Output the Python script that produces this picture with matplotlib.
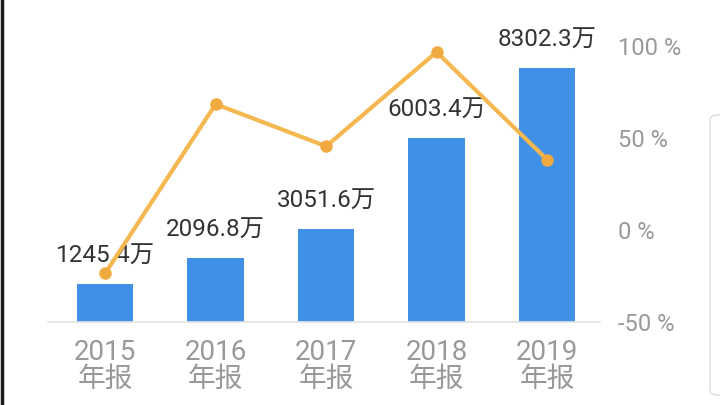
import matplotlib
matplotlib.use("Agg")
import matplotlib.pyplot as plt
from matplotlib.patches import FancyBboxPatch
from matplotlib.lines import Line2D

plt.rcParams['font.family'] = ['Roboto', 'Noto Sans CJK SC', 'DejaVu Sans']

years = ["2015", "2016", "2017", "2018", "2019"]
tick_labels = [f"{y}\n年报" for y in years]
values = [1245.4, 2096.8, 3051.6, 6003.4, 8302.3]
value_labels = ["1245.4万", "2096.8万", "3051.6万", "6003.4万", "8302.3万"]
growth = [-23.5, 68.4, 45.5, 96.7, 38.3]
right_ticks = [-50, 0, 50, 100]

W, H = 720, 405
fig = plt.figure(figsize=(7.2, 4.05), dpi=100)
ax = fig.add_axes([48 / W, (H - 322) / H, 552 / W, (322 - 46) / H])
ax2 = ax.twinx()

x = list(range(len(years)))
ax.bar(x, values, width=0.51, color="#4190E8", zorder=2)
ax.set_ylim(0, 9020)
ax.set_xlim(-0.518, 4.48)
for xi, v, lab in zip(x, values, value_labels):
    ax.annotate(lab, (xi, v), xytext=(0, 20), textcoords="offset points",
                ha="center", va="center", fontsize=17.5, color="#333333")

ax2.plot(x, growth, color="#F5B850", lw=3, marker="o", markersize=8,
         markerfacecolor="#F0AA40", markeredgecolor="#F0AA40", zorder=3)
ax2.set_ylim(-50, 100)
ax2.set_yticks(right_ticks)
ax2.set_yticklabels([f"{t} %" for t in right_ticks], fontsize=17, color="#999999")
ax2.tick_params(axis="y", length=0, pad=13)

ax.set_xticks(x)
ax.set_xticklabels(tick_labels, fontsize=20, color="#999999", linespacing=1.0)
ax.tick_params(axis="x", length=0, pad=12)
ax.set_yticks([])

for a in (ax, ax2):
    for s in a.spines.values():
        s.set_visible(False)
ax.spines['bottom'].set_visible(True)
ax.spines['bottom'].set_color("#E3E3E3")
ax.spines['bottom'].set_linewidth(1.2)
ax2.patch.set_visible(False)

# left dark edge and right rounded panel
fig.add_artist(Line2D([1.5 / W, 1.5 / W], [0, 1], color="#1a1a1a", lw=2.5))
fig.add_artist(FancyBboxPatch((710 / W, (H - 395) / H), 30 / W, 280 / H,
                              boxstyle="round,pad=0,rounding_size=0.012",
                              fc="white", ec="#DDDDDD", lw=1.0,
                              transform=fig.transFigure))

fig.savefig("out.png", dpi=100)
